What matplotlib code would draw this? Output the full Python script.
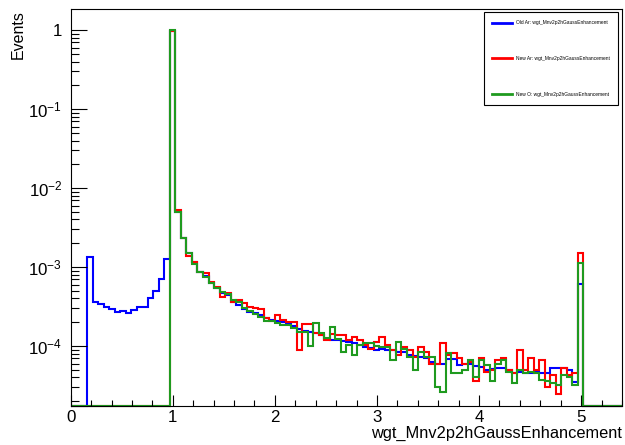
import numpy as np
import matplotlib.pyplot as plt
from matplotlib.ticker import LogLocator, MultipleLocator, FuncFormatter

plt.rcParams['font.family'] = ['Liberation Sans', 'DejaVu Sans']
plt.rcParams['mathtext.fontset'] = 'custom'
plt.rcParams['mathtext.rm'] = 'Liberation Sans'
plt.rcParams['mathtext.it'] = 'Liberation Sans:italic'

# 100 bins between 0 and 5.4
edges = np.linspace(0, 5.4, 101)

old_ar = [0.0] * 3 + [
    1.35e-3, 3.64e-4, 3.40e-4, 3.15e-4, 2.91e-4, 2.69e-4, 2.80e-4, 2.64e-4,
    2.86e-4, 3.09e-4, 3.09e-4, 4.0e-4, 5.0e-4, 7.0e-4, 1.25e-3,
    0.97, 5.0e-3, 2.32e-3, 1.5e-3, 1.15e-3, 8.7e-4, 7.6e-4, 6.3e-4, 5.5e-4, 4.7e-4,
    4.4e-4, 3.64e-4, 3.3e-4, 2.9e-4, 2.72e-4, 2.6e-4, 2.45e-4, 2.25e-4, 2.15e-4, 2.07e-4,
    2.02e-4, 1.92e-4, 1.78e-4, 1.62e-4, 1.55e-4, 1.5e-4, 1.45e-4, 1.38e-4, 1.22e-4, 1.2e-4,
    1.19e-4, 1.16e-4, 1.13e-4, 1.1e-4, 1.02e-4, 9.6e-5, 9.4e-5, 9.0e-5, 9.2e-5, 8.9e-5,
    8.9e-5, 8.5e-5, 8.4e-5, 7.8e-5, 7.4e-5, 7.3e-5, 7.0e-5, 6.2e-5, 6.0e-5, 6.0e-5,
    6.9e-5, 6.9e-5, 5.8e-5, 5.9e-5, 6.0e-5, 5.6e-5, 5.4e-5, 5.0e-5, 5.1e-5, 5.2e-5,
    5.3e-5, 4.9e-5, 4.5e-5, 4.7e-5, 4.5e-5, 4.6e-5, 4.7e-5, 4.5e-5, 4.5e-5, 5.2e-5,
    5.2e-5, 5.2e-5, 5.0e-5, 3.5e-5, 6.1e-4] + [0.0] * 7

new_ar = [0.0] * 18 + [
    0.98, 5.2e-3, 2.32e-3, 1.39e-3, 1.15e-3, 8.7e-4, 8.5e-4, 6.4e-4, 5.6e-4, 4.13e-4,
    4.65e-4, 3.64e-4, 3.82e-4, 3.47e-4, 3.09e-4, 3.0e-4, 2.91e-4, 2.24e-4, 2.1e-4, 2.47e-4,
    2.13e-4, 2.0e-4, 1.99e-4, 8.9e-5, 1.9e-4, 1.9e-4, 1.45e-4, 1.38e-4, 1.19e-4, 1.4e-4,
    1.38e-4, 1.38e-4, 1.19e-4, 1.3e-4, 1.2e-4, 1.03e-4, 9.3e-5, 1.13e-4, 1.31e-4, 1.03e-4,
    8.9e-5, 7.7e-5, 9.8e-5, 8.9e-5, 7.3e-5, 9.8e-5, 8.5e-5, 6.0e-5, 6.0e-5, 1.08e-4,
    7.7e-5, 8.1e-5, 7.0e-5, 6.0e-5, 6.3e-5, 3.6e-5, 7.0e-5, 4.7e-5, 5.0e-5, 6.6e-5,
    7.0e-5, 5.0e-5, 4.5e-5, 8.9e-5, 5.0e-5, 7.0e-5, 5.0e-5, 6.6e-5, 3.06e-5, 4.3e-5,
    2.5e-5, 5.2e-5, 4.3e-5, 4.5e-5, 1.5e-3] + [0.0] * 7

new_o = [0.0] * 18 + [
    1.0, 5.0e-3, 2.32e-3, 1.5e-3, 1.09e-3, 8.7e-4, 7.4e-4, 6.3e-4, 5.5e-4, 4.87e-4,
    4.5e-4, 3.82e-4, 3.64e-4, 3.0e-4, 2.8e-4, 2.55e-4, 2.32e-4, 2.1e-4, 2.07e-4, 1.95e-4,
    1.84e-4, 1.84e-4, 1.67e-4, 1.52e-4, 1.52e-4, 1.0e-4, 1.94e-4, 1.45e-4, 1.25e-4, 1.76e-4,
    1.23e-4, 8.5e-5, 1.03e-4, 7.7e-5, 1.03e-4, 1.08e-4, 1.08e-4, 1.0e-4, 9.8e-5, 9.8e-5,
    6.65e-5, 1.13e-4, 9.3e-5, 7.3e-5, 5.0e-5, 8.5e-5, 7.3e-5, 7.3e-5, 3.06e-5, 2.64e-5,
    8.1e-5, 4.5e-5, 4.5e-5, 5.0e-5, 6.6e-5, 4.1e-5, 6.6e-5, 5.8e-5, 3.6e-5, 6.0e-5,
    6.6e-5, 4.7e-5, 3.4e-5, 5.0e-5, 4.5e-5, 4.7e-5, 4.5e-5, 3.7e-5, 3.6e-5, 3.4e-5,
    3.2e-5, 4.3e-5, 4.1e-5, 3.2e-5, 1.11e-3] + [0.0] * 7

labels = ['Old Ar: wgt_Mnv2p2hGaussEnhancement',
          'New Ar: wgt_Mnv2p2hGaussEnhancement',
          'New O: wgt_Mnv2p2hGaussEnhancement']
colors = ['#0000ff', '#ff0000', '#1f9a1f']

ymin, ymax = 1.74e-5, 1.85

fig = plt.figure(figsize=(6.25, 4.45), dpi=100)
ax = fig.add_axes([70.7 / 625, 1 - 406 / 445, (622 - 70.7) / 625, (406 - 9) / 445])

for vals, lab, col in zip([old_ar, new_ar, new_o], labels, colors):
    v = np.array(vals)
    # empty bins are drawn along the bottom of the frame, like ROOT does
    v = np.where(v > 0, v, ymin)
    ax.stairs(v, edges, baseline=None, color=col, linewidth=1.5, label=lab, clip_on=False)

ax.set_yscale('log')
ax.set_xlim(0, 5.4)
ax.set_ylim(ymin, ymax)

ax.xaxis.set_major_locator(MultipleLocator(1))
ax.xaxis.set_minor_locator(MultipleLocator(0.2))
ax.yaxis.set_major_locator(LogLocator(base=10, numticks=10))
ax.yaxis.set_minor_locator(LogLocator(base=10, subs=np.arange(2, 10), numticks=100))


def fmt(y, pos):
    e = int(round(np.log10(y)))
    if e == 0:
        return '1'
    return r'$10^{%d}$' % e


ax.yaxis.set_major_formatter(FuncFormatter(fmt))

ax.tick_params(axis='both', which='both', direction='in', top=False, right=False,
               width=0.8, labelsize=12.2)
ax.tick_params(axis='y', which='major', length=11.5, pad=6)
ax.tick_params(axis='y', which='minor', length=5.8)
ax.tick_params(axis='x', which='major', length=8, pad=3)
ax.tick_params(axis='x', which='minor', length=4)
for s in ax.spines.values():
    s.set_linewidth(0.8)

fig.text(18 / 625, 1 - 10 / 445, 'Events', rotation=90, ha='center', va='top', fontsize=11.5)
fig.text(622 / 625, 1 - 433 / 445, 'wgt_Mnv2p2hGaussEnhancement', ha='right', va='center',
         fontsize=11.8)

leg = ax.legend(loc='upper left', bbox_to_anchor=(484 / 625, 1 - 12 / 445),
                bbox_transform=fig.transFigure, fontsize=3.5, handlelength=4.0,
                handletextpad=0.9, labelspacing=6.3, borderpad=1.7, borderaxespad=0,
                fancybox=False, edgecolor='black', framealpha=1)
leg.get_frame().set_linewidth(0.8)
for h in leg.get_lines():
    h.set_linewidth(2)

fig.savefig('out.png', dpi=100)
